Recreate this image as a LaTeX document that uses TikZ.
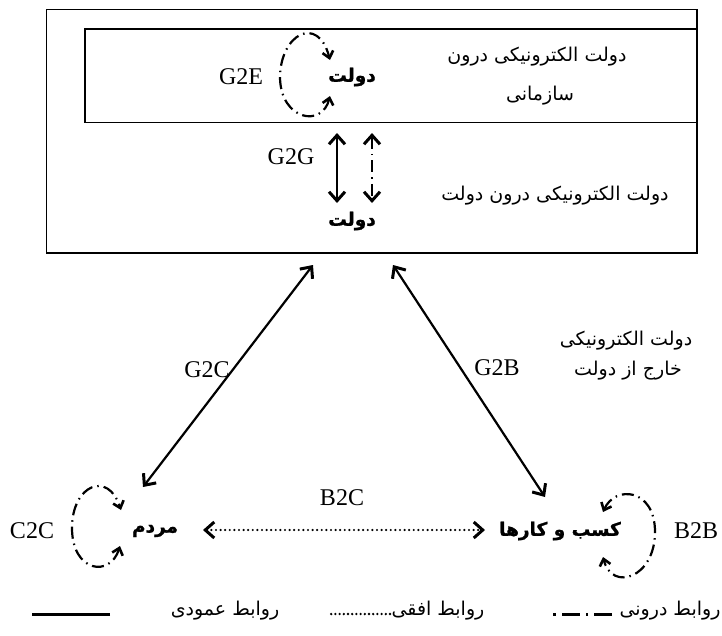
\documentclass[tikz,border=0pt]{standalone}
\usepackage{fontspec}
\setmainfont{Liberation Serif}
\newfontfamily\fa[Script=Arabic]{DejaVu Sans}
\newfontfamily\fab[Script=Arabic,FakeBold=1.2]{DejaVu Sans Bold}
\TeXXeTstate=1
\usetikzlibrary{arrows.meta}
\tikzset{
  barb/.tip={Straight Barb[length=9pt,width=16pt,line width=3pt 0 1]},
  sbarb/.tip={Straight Barb[length=6.5pt,width=11pt,line width=2.6pt 0 1]},
  box/.style={draw, line width=1.3pt},
  lat/.style={font=\fontsize{24}{26}\selectfont, inner sep=0pt},
  fatxt/.style={font=\fa\fontsize{19}{22}\selectfont, inner sep=0pt},
  fabold/.style={font=\fab\fontsize{18.5}{22}\selectfont, inner sep=0pt},
  vert/.style={line width=2.2pt, barb-barb},
  horiz/.style={line width=2.4pt, line cap=round, dash pattern=on 0pt off 4.6pt, barb-barb},
  selfloop/.style={line width=2.2pt, dash pattern=on 12pt off 5pt on 1.5pt off 5pt, sbarb-sbarb},
  legdash/.style={line width=3pt, dash pattern=on 18pt off 6pt on 2.5pt off 6pt},
  legdot/.style={line width=2.6pt, line cap=round, dash pattern=on 0pt off 4.2pt},
  legsolid/.style={line width=3pt},
}
\begin{document}
\begin{tikzpicture}[x=1pt,y=-1pt]
\useasboundingbox (0,0) rectangle (722,635);
% boxes
\draw[box] (46.5,9.3) rectangle (697,253);
\draw[box] (85,29) rectangle (697,122.5);
% texts in boxes
\node[fabold] (gov1) at (352,77) {\beginR دولت\endR};
\node[fabold] (gov2) at (352,221) {\beginR دولت\endR};
\node[lat] (g2e) at (241,77) {G2E};
\node[lat] (g2g) at (291,157) {G2G};
\node[fatxt] (t1) at (537,57) {\beginR دولت الکترونیکی درون\endR};
\node[fatxt] (t2) at (540,96) {\beginR سازمانی\endR};
\node[fatxt] (t3) at (555,196) {\beginR دولت الکترونیکی درون دولت\endR};
% G2E loop
\coordinate (g2eT) at (330,60);
\coordinate (g2eB) at (330,96);
\draw[selfloop] (g2eB) .. controls (322,128) and (281,120) .. (280,78) .. controls (280,34) and (318,14) .. (g2eT);
% G2G arrows
\coordinate (s1) at (337,133);
\coordinate (s2) at (337,203);
\coordinate (d1) at (372,133);
\coordinate (d2) at (372,203);
\draw[vert] (s1) -- (s2);
\draw[selfloop, barb-barb] (d1) -- (d2);
% lower nodes
\node[fabold] (people) at (155,531) {\beginR مردم\endR};
\node[fabold] (biz) at (560,531) {\beginR کسب و کارها\endR};
\node[lat] (c2c) at (32,531) {C2C};
\node[lat] (b2b) at (696,531) {B2B};
\node[lat] (b2c) at (342,498) {B2C};
\node[lat] (g2c) at (207,370) {G2C};
\node[lat] (g2b) at (497,368) {G2B};
\node[fatxt] (t4) at (626,341) {\beginR دولت الکترونیکی\endR};
\node[fatxt] (t5) at (628,371) {\beginR خارج از دولت\endR};
% G2C, G2B
\coordinate (gc1) at (313,265);
\coordinate (gc2) at (143,487);
\coordinate (gb1) at (393,265);
\coordinate (gb2) at (545,497);
\draw[vert] (gc1) -- (gc2);
\draw[vert] (gb1) -- (gb2);
% B2C
\coordinate (bc1) at (203,530);
\coordinate (bc2) at (485,530);
\draw[horiz] (bc1) -- (bc2);
% C2C loop
\coordinate (c2cT) at (121,510);
\coordinate (c2cB) at (120,546);
\draw[selfloop] (c2cB) .. controls (110,578) and (72,572) .. (72,528) .. controls (72,485) and (108,470) .. (c2cT);
% B2B loop
\coordinate (b2bT) at (603,512);
\coordinate (b2bB) at (603,557);
\draw[selfloop] (b2bT) .. controls (615,485) and (655,488) .. (655,532) .. controls (655,578) and (612,592) .. (b2bB);
% legend
\node[fatxt] (l1) at (670,611) {\beginR روابط درونی\endR};
\node[fatxt] (l2) at (438,611) {\beginR روابط افقی\endR};
\node[fatxt] (l3) at (225,611) {\beginR روابط عمودی\endR};
\coordinate (p1a) at (612,614);
\coordinate (p1b) at (548,614);
\coordinate (p2a) at (390,614);
\coordinate (p2b) at (328,614);
\coordinate (p3a) at (110,614);
\coordinate (p3b) at (32,614);
\draw[legdash] (p1a) -- (p1b);
\draw[legdot] (p2a) -- (p2b);
\draw[legsolid] (p3a) -- (p3b);
\end{tikzpicture}
\end{document}
